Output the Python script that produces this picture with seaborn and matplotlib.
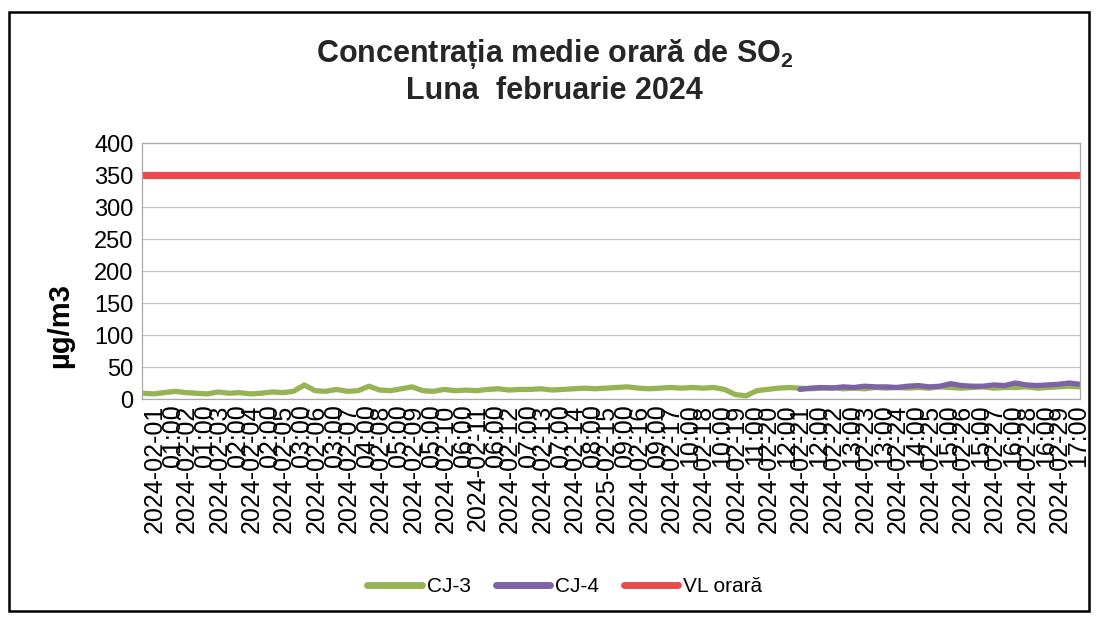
import numpy as np
import matplotlib
matplotlib.use("Agg")
import matplotlib.pyplot as plt
import seaborn as sns
from matplotlib.patches import Rectangle

# valori medii orare SO2 (cate 3 pe zi)
cj3 = [9, 8, 10, 12, 10, 9, 8, 11, 9, 10, 8, 9, 11, 10, 12,
       22, 13, 12, 15, 12, 13, 20, 14, 13, 16, 19, 13, 12, 15, 13,
       14, 13, 15, 16, 14, 15, 15, 16, 14, 15, 16, 17, 16, 17, 18,
       19, 17, 16, 17, 18, 17, 18, 17, 18, 15, 7, 5, 13, 15, 17,
       18, 17, 16, 17, 18, 16, 17, 16, 18, 17, 18, 17, 18, 17, 19,
       18, 17, 18, 19, 17, 18, 18, 19, 17, 18, 19, 20, 19]
cj4 = [15, 17, 18, 17, 19, 18, 20, 19, 19, 18, 20, 21, 19, 20,
       24, 21, 20, 20, 22, 21, 25, 22, 21, 22, 23, 25, 23]
start_cj4 = 61
vl_orara = 350

zile = ["2024-02-01", "2024-02-02", "2024-02-03", "2024-02-04", "2024-02-05",
        "2024-02-06", "2024-02-07", "2024-02-08", "2024-02-09", "2024-02-10",
        "2024-02-11", "2024-02-12", "2024-02-13", "2024-02-14", "2025-02-15",
        "2024-02-16", "2024-02-17", "2024-02-18", "2024-02-19", "2024-02-20",
        "2024-02-21", "2024-02-22", "2024-02-23", "2024-02-24", "2024-02-25",
        "2024-02-26", "2024-02-27", "2024-02-28", "2024-02-29"]
ore = ["01:00", "01:00", "02:00", "02:00", "03:00", "03:00", "04:00", "05:00",
       "05:00", "06:00", "06:00", "07:00", "07:00", "08:00", "09:00", "09:00",
       "10:00", "10:00", "11:00", "12:00", "12:00", "13:00", "13:00", "14:00",
       "15:00", "15:00", "16:00", "16:00", "17:00"]
etichete = [z + "\n" + o for z, o in zip(zile, ore)]

x3 = np.arange(len(cj3)) / 3
x4 = (start_cj4 + np.arange(len(cj4))) / 3

sns.set_theme(style="white")
plt.rcParams['font.family'] = ['Liberation Sans', 'DejaVu Sans']
plt.rcParams['text.color'] = 'black'
plt.rcParams['xtick.color'] = 'black'
plt.rcParams['ytick.color'] = 'black'
plt.rcParams['mathtext.fontset'] = 'custom'
plt.rcParams['mathtext.rm'] = 'Liberation Sans:bold'
plt.rcParams['mathtext.bf'] = 'Liberation Sans:bold'

fig = plt.figure(figsize=(10.96, 6.17), dpi=100)
ax = fig.add_axes([0.1296, 0.3533, 0.8558, 0.4149])

sns.lineplot(x=x3, y=cj3, ax=ax, color="#97b455", lw=3.8, label="CJ-3")
sns.lineplot(x=x4, y=cj4, ax=ax, color="#7e62a6", lw=3.8, label="CJ-4")
sns.lineplot(x=x3, y=np.full(len(x3), vl_orara), ax=ax, color="#ec4a4f", lw=5.2, label="VL orară")

ax.set_ylim(0, 400)
ax.set_yticks(range(0, 401, 50))
ax.set_xlim(-0.02, 29.0)
ax.set_xticks(range(len(etichete)))
ax.set_xticklabels(etichete, rotation=90, ha='left', va='top', multialignment='right',
                   fontsize=18, linespacing=0.7)
ax.tick_params(axis='x', length=0, pad=4)
ax.tick_params(axis='y', length=0, pad=6, labelsize=17)
ax.grid(axis='y', color="#c4c4c4", lw=0.9)
for s in ax.spines.values():
    s.set_color("#a8a8a8")
    s.set_linewidth(0.9)
ax.set_xlabel("")
ax.set_ylabel("")
ax.get_legend().remove()

fig.text(0.055, 1 - 326 / 617, "µg/m3", rotation=90, ha='center', va='center',
         fontsize=21, fontweight='bold')
fig.text(0.506, 1 - 54 / 617, r"Concentrația medie orară de SO$_\mathbf{2}$",
         ha='center', va='center', fontsize=22, fontweight='bold', color="#262626")
fig.text(0.506, 1 - 91 / 617, "Luna  februarie 2024", ha='center', va='center',
         fontsize=22, fontweight='bold', color="#262626")

handles, labels = ax.get_legend_handles_labels()
leg = fig.legend(handles, labels, loc='center', bbox_to_anchor=(0.5155, 1 - 587 / 617),
                 ncol=3, frameon=False, fontsize=15, handlelength=2.6,
                 handletextpad=0.25, columnspacing=1.2)
for h in leg.get_lines():
    h.set_linewidth(5)

fig.patches.append(Rectangle((0.008, 0.01), 0.986, 0.97, transform=fig.transFigure,
                             fill=False, edgecolor="black", lw=1.8))

fig.savefig("out.png", dpi=100)
